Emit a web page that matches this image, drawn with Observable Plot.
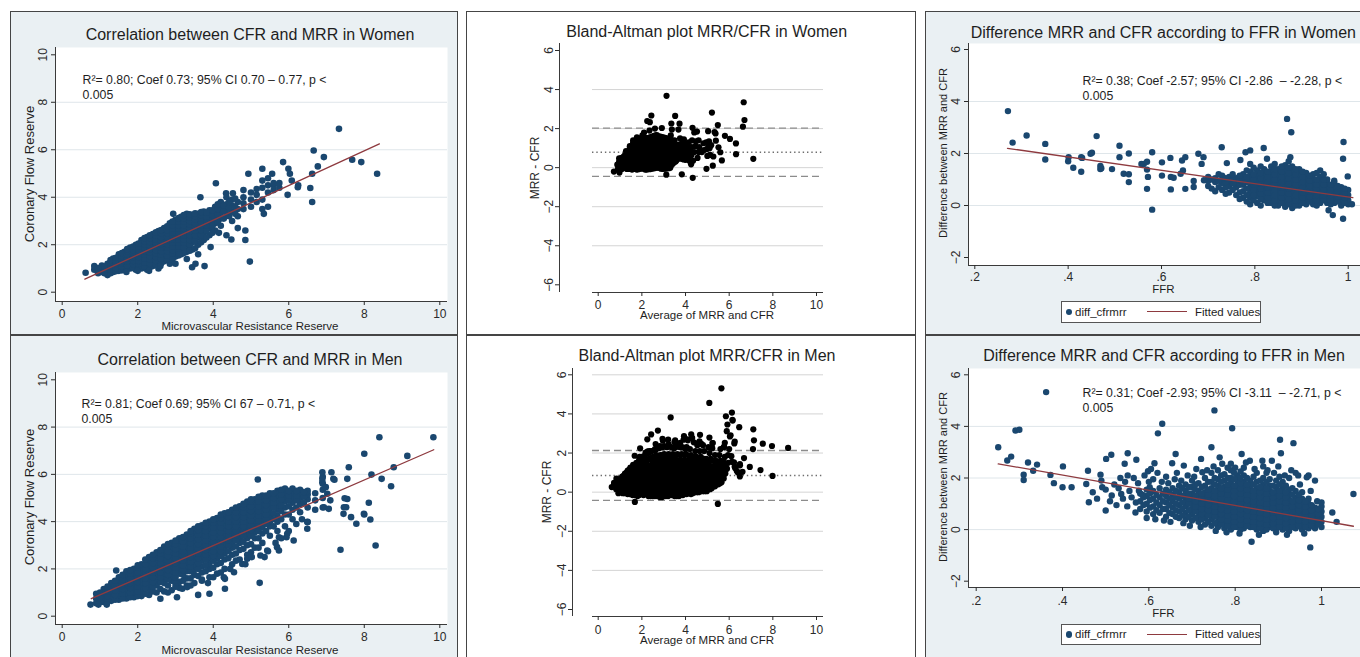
<!DOCTYPE html>
<html><head><meta charset="utf-8">
<script src="https://cdn.jsdelivr.net/npm/d3@7"></script>
<script src="https://cdn.jsdelivr.net/npm/@observablehq/plot@0.6"></script>
<style>
body{margin:0;background:#fff;}
#root{position:relative;width:1360px;height:657px;overflow:hidden;background:#fff;font-family:"Liberation Sans",Arial,Helvetica,sans-serif;}
.panel{position:absolute;box-sizing:border-box;border:1.5px solid #454545;}
.abs{position:absolute;white-space:pre;color:#1e1e1e;}
.legend{position:absolute;box-sizing:border-box;border:1.2px solid #555;background:#fff;}
</style></head><body><div id="root"></div>
<script>
// ---------------- DATA ----------------
// Women: MRR (x) vs CFR (y), columns [MRR, [CFR...]] plus scattered points
const womenCorrCols = [
 [0.85,[0.95,1.1]],[1.05,[0.85,1.0,1.12]],[1.2,[0.72,0.9,1.05,1.2]],[1.35,[0.85,1.0,1.15,1.3,1.42]],
 [1.5,[0.9,1.05,1.2,1.35,1.5,1.6]],[1.65,[0.95,1.1,1.25,1.4,1.55,1.7]],[1.8,[1.0,1.15,1.3,1.45,1.6,1.75,1.88]],
 [1.95,[0.95,1.1,1.25,1.4,1.55,1.7,1.85,2.0]],[2.1,[1.0,1.2,1.35,1.5,1.65,1.8,1.95,2.1,2.2]],
 [2.25,[0.95,1.15,1.3,1.45,1.6,1.75,1.9,2.05,2.2,2.32]],[2.4,[1.1,1.3,1.45,1.6,1.75,1.9,2.05,2.2,2.35,2.45]],
 [2.55,[1.0,1.2,1.4,1.55,1.7,1.85,2.0,2.15,2.3,2.45,2.58]],[2.7,[1.3,1.5,1.65,1.8,1.95,2.1,2.25,2.4,2.55,2.7]],
 [2.85,[1.2,1.45,1.6,1.75,1.9,2.05,2.2,2.35,2.5,2.65,2.8,2.9]],[3.0,[1.5,1.7,1.85,2.0,2.15,2.3,2.45,2.6,2.75,2.9,3.05]],
 [3.15,[1.6,1.8,2.0,2.15,2.3,2.45,2.6,2.75,2.9,3.05,3.18]],[3.3,[1.4,1.7,1.95,2.15,2.3,2.45,2.6,2.75,2.9,3.05,3.2,3.3]],
 [3.45,[1.8,2.1,2.3,2.5,2.65,2.8,2.95,3.1,3.25]],[3.6,[1.6,2.0,2.3,2.5,2.7,2.85,3.0,3.15,3.3]],
 [3.75,[2.2,2.5,2.75,2.95,3.1,3.25,3.4]],[3.9,[2.4,2.7,2.9,3.1,3.3,3.45]],[4.05,[2.6,2.9,3.2,3.4,3.6]],
 [4.2,[2.8,3.1,3.35,3.6,3.8]],[4.35,[2.4,3.3,3.5,3.7,4.0]],[4.5,[3.0,3.4,3.65,3.9]],[4.65,[2.7,3.2,3.5,3.8]],
 [4.8,[3.5,3.75,4.0,4.3]],[5.0,[3.6,3.9,4.2]],[5.15,[3.8,4.1,4.35]],[5.3,[3.5,3.9,4.4,4.7]],
 [5.45,[4.2,4.5,4.8]],[5.6,[4.3,4.5]],[5.75,[4.4,4.6]]
];
const womenCorrColsB = [
 [0.95,[0.88,1.02]],[1.12,[0.8,0.95,1.08]],[1.28,[0.8,0.95,1.1,1.25,1.35]],[1.42,[0.88,1.02,1.18,1.32,1.45]],
 [1.58,[0.92,1.08,1.22,1.38,1.52,1.65]],[1.72,[0.98,1.12,1.28,1.42,1.58,1.72,1.82]],[1.88,[1.02,1.18,1.32,1.48,1.62,1.78,1.92]],
 [2.02,[1.05,1.2,1.32,1.48,1.62,1.78,1.92,2.05]],[2.18,[1.08,1.25,1.42,1.58,1.72,1.88,2.02,2.15,2.28]],
 [2.32,[1.05,1.22,1.38,1.52,1.68,1.82,1.98,2.12,2.28,2.4]],[2.48,[1.15,1.32,1.48,1.62,1.78,1.92,2.08,2.22,2.38,2.52]],
 [2.62,[1.22,1.42,1.58,1.72,1.88,2.02,2.18,2.32,2.48,2.62]],[2.78,[1.38,1.55,1.72,1.88,2.02,2.18,2.32,2.48,2.62,2.78]],
 [2.92,[1.38,1.62,1.78,1.92,2.08,2.22,2.38,2.52,2.68,2.82,2.98]],[3.08,[1.55,1.75,1.92,2.08,2.22,2.38,2.52,2.68,2.82,2.98,3.12]],
 [3.22,[1.65,1.88,2.08,2.22,2.38,2.52,2.68,2.82,2.98,3.12,3.25]],[3.38,[1.75,2.0,2.2,2.4,2.55,2.7,2.85,3.0,3.15,3.28]],
 [3.52,[1.85,2.15,2.4,2.6,2.75,2.9,3.05,3.2,3.32]],[3.68,[2.1,2.4,2.62,2.8,2.95,3.1,3.25,3.38]],
 [3.82,[2.3,2.6,2.82,3.0,3.18,3.35]],[3.98,[2.5,2.8,3.05,3.25,3.45]],[4.12,[2.95,3.25,3.5,3.7]],
 [4.28,[3.1,3.45,3.65]],[4.42,[3.2,3.55,3.8]],[4.58,[3.3,3.6,3.95]]
];
const womenCorrExtra = [[0.62,0.82],[0.95,0.8],[1.7,0.85],[2.0,0.9],[2.3,0.9],[2.6,1.1],[3.0,1.2],[3.1,1.6],[3.44,1.05],[3.53,1.2],[3.77,1.1],[3.93,1.9],[4.15,2.5],[4.48,2.22],[4.85,2.2],[4.85,2.6],[4.97,1.29],[2.94,3.3],[3.66,4.0],[4.07,4.59],[4.34,4.17],[4.52,4.17],[4.93,4.99],[5.3,5.2],[5.34,3.3],[5.45,3.6],[5.6,4.6],[5.56,4.99],[5.85,5.48],[5.97,4.1],[5.99,5.2],[6.03,4.99],[6.08,4.7],[6.25,4.5],[6.24,4.42],[6.57,4.39],[6.62,4.99],[6.62,3.8],[6.66,5.97],[6.77,5.3],[6.93,5.69],[7.33,6.88],[7.68,5.58],[7.92,5.48],[8.34,4.99]];
const womenCorrFit = [[0.6,0.55],[8.4,6.25]];

// Men: MRR (x) vs CFR (y)
const menCorrCols = [
 [0.9,[0.55,0.75,0.95]],[1.1,[0.6,0.8,1.0,1.15]],[1.3,[0.65,0.85,1.05,1.25,1.4]],[1.5,[0.7,0.9,1.1,1.3,1.5,1.65]],
 [1.7,[0.75,0.95,1.15,1.35,1.55,1.75,1.9]],[1.9,[0.8,1.0,1.2,1.4,1.6,1.8,2.0]],[2.1,[0.85,1.05,1.25,1.45,1.65,1.85,2.05,2.2]],
 [2.3,[0.9,1.15,1.35,1.55,1.75,1.95,2.15,2.35,2.5]],[2.5,[1.0,1.3,1.5,1.7,1.9,2.1,2.3,2.5,2.7]],
 [2.7,[1.05,1.4,1.6,1.8,2.0,2.2,2.4,2.6,2.8,2.95]],[2.9,[1.1,1.5,1.7,1.9,2.1,2.3,2.5,2.7,2.9,3.1]],
 [3.1,[1.2,1.45,1.8,2.0,2.2,2.4,2.6,2.8,3.0,3.2,3.3]],[3.3,[1.3,1.6,1.9,2.1,2.3,2.5,2.7,2.9,3.1,3.3,3.45]],
 [3.5,[1.4,1.75,2.0,2.2,2.4,2.6,2.8,3.0,3.2,3.4,3.6,3.7]],[3.7,[1.5,1.85,2.1,2.35,2.55,2.75,2.95,3.15,3.35,3.55,3.75,3.85]],
 [3.9,[1.65,2.0,2.25,2.5,2.7,2.9,3.1,3.3,3.5,3.7,3.9,4.0]],[4.1,[1.8,2.2,2.45,2.65,2.85,3.05,3.25,3.45,3.65,3.85,4.05,4.15]],
 [4.3,[2.0,2.4,2.65,2.85,3.05,3.25,3.45,3.65,3.85,4.05,4.25,4.35]],[4.5,[2.2,2.6,2.9,3.1,3.3,3.5,3.7,3.9,4.1,4.3,4.5]],
 [4.7,[2.4,2.8,3.1,3.3,3.5,3.7,3.9,4.1,4.3,4.5,4.65]],[4.9,[2.6,3.0,3.3,3.5,3.7,3.9,4.1,4.3,4.5,4.7,4.85]],
 [5.1,[2.9,3.3,3.55,3.75,3.95,4.15,4.35,4.55,4.75,4.95]],[5.3,[3.1,3.5,3.75,3.95,4.15,4.35,4.55,4.75,4.95,5.1]],
 [5.5,[3.4,3.8,4.0,4.2,4.4,4.6,4.8,5.0,5.2]],[5.7,[3.6,4.0,4.25,4.5,4.7,4.9,5.1,5.3]],
 [5.9,[3.8,4.3,4.6,4.85,5.05,5.25,5.4]],[6.1,[4.1,4.5,4.8,5.0,5.2,5.4]],[6.3,[4.4,4.75,5.0,5.2,5.35]],
 [6.5,[4.6,4.95,5.15,5.3]],[6.7,[4.5,4.9,5.2]],[6.9,[4.6,5.0,5.35,5.6,5.9]]
];
const menCorrColsB = [
 [1.0,[0.6,0.8,1.0]],[1.2,[0.65,0.85,1.05,1.25]],[1.4,[0.7,0.9,1.1,1.3,1.5]],[1.6,[0.75,0.95,1.15,1.35,1.55,1.75]],
 [1.8,[0.8,1.0,1.2,1.4,1.6,1.8,1.95]],[2.0,[0.85,1.05,1.25,1.45,1.65,1.85,2.05,2.15]],[2.2,[0.95,1.2,1.4,1.6,1.8,2.0,2.2,2.4]],
 [2.4,[1.05,1.25,1.45,1.65,1.85,2.05,2.25,2.45,2.6]],[2.6,[1.15,1.45,1.65,1.85,2.05,2.25,2.45,2.65,2.8]],
 [2.8,[1.3,1.55,1.75,1.95,2.15,2.35,2.55,2.75,2.95,3.05]],[3.0,[1.4,1.65,1.85,2.05,2.25,2.45,2.65,2.85,3.05,3.2]],
 [3.2,[1.5,1.75,1.95,2.15,2.35,2.55,2.75,2.95,3.15,3.35]],[3.4,[1.6,1.9,2.1,2.3,2.5,2.7,2.9,3.1,3.3,3.5,3.6]],
 [3.6,[1.7,2.0,2.25,2.45,2.65,2.85,3.05,3.25,3.45,3.65,3.8]],[3.8,[1.9,2.15,2.4,2.6,2.8,3.0,3.2,3.4,3.6,3.8,3.95]],
 [4.0,[2.05,2.35,2.55,2.75,2.95,3.15,3.35,3.55,3.75,3.95,4.1]],[4.2,[2.25,2.55,2.75,2.95,3.15,3.35,3.55,3.75,3.95,4.15,4.3]],
 [4.4,[2.45,2.75,3.0,3.2,3.4,3.6,3.8,4.0,4.2,4.4]],[4.6,[2.65,2.95,3.2,3.4,3.6,3.8,4.0,4.2,4.4,4.6]],
 [4.8,[2.85,3.15,3.4,3.6,3.8,4.0,4.2,4.4,4.6,4.75]],[5.0,[3.05,3.4,3.65,3.85,4.05,4.25,4.45,4.65,4.85,4.95]],
 [5.2,[3.3,3.6,3.85,4.05,4.25,4.45,4.65,4.85,5.05]],[5.4,[3.6,3.9,4.1,4.3,4.5,4.7,4.9,5.1]],
 [5.6,[3.8,4.1,4.35,4.6,4.8,5.0,5.2]],[5.8,[4.1,4.45,4.7,4.95,5.15,5.35]],[6.0,[4.3,4.65,4.9,5.1,5.3]],
 [6.2,[4.6,4.9,5.1,5.3]],[6.4,[4.8,5.05,5.25]]
];
const menCorrExtra = [[0.75,0.49],[0.96,0.49],[1.18,0.49],[1.43,1.93],[2.6,0.74],[2.8,1.0],[3.0,1.25],[3.04,0.8],[3.18,1.16],[3.31,1.23],[3.4,1.3],[3.6,0.9],[3.7,1.55],[3.9,0.95],[3.86,1.4],[4.0,1.65],[4.2,1.85],[4.28,1.65],[4.31,1.16],[4.31,1.58],[4.45,2.0],[4.55,1.86],[4.6,2.35],[4.77,2.21],[4.85,2.2],[4.9,2.43],[5.0,2.7],[5.02,2.5],[5.2,2.9],[5.25,2.57],[5.36,2.5],[5.23,1.41],[5.43,2.78],[5.45,2.75],[5.65,3.1],[5.69,2.92],[5.74,2.78],[5.74,3.34],[5.8,3.3],[5.94,3.34],[5.96,3.49],[6.0,3.6],[6.13,3.2],[6.2,3.9],[6.35,4.1],[6.49,3.7],[6.49,3.98],[6.5,3.99],[6.93,4.61],[5.18,5.78],[6.89,5.67],[6.89,5.81],[6.89,6.09],[6.98,5.46],[7.02,5.18],[7.1,4.9],[7.13,6.09],[7.18,5.81],[7.21,5.77],[7.06,4.54],[7.46,4.61],[7.48,4.99],[7.52,4.61],[7.45,4.33],[7.55,4.96],[7.55,5.81],[7.59,6.3],[7.37,2.81],[7.65,4.19],[7.79,3.91],[7.99,4.33],[8.0,4.3],[8.16,4.09],[8.12,4.8],[8.3,2.99],[8.0,6.87],[8.19,5.99],[8.46,5.81],[8.71,5.5],[8.78,6.3],[9.14,6.78],[8.4,7.57],[9.83,7.57]];
const menCorrFit = [[0.77,0.74],[9.84,7.04]];

// Bland-Altman reference lines [lower LoA, upper LoA] and mean difference
const womenLoA = [-0.45, 2.02], womenMeanDiff = 0.79;
const menLoA = [-0.42, 2.13], menMeanDiff = 0.85;

// Women: FFR (x) vs difference MRR-CFR (y)
const womenFfrCols = [
 [0.70,[0.75,0.95,1.1]],[0.715,[0.55,0.9,1.05]],[0.73,[0.6,0.85,1.0,1.15]],[0.745,[0.5,0.75,0.95,1.1]],
 [0.76,[0.4,0.7,0.9,1.05]],[0.775,[0.3,0.55,0.8,1.0,1.2]],[0.79,[0.05,0.3,0.5,0.7,0.9,1.1,1.3,1.6]],
 [0.805,[0.1,0.35,0.55,0.75,0.95,1.15,1.35]],[0.82,[0.2,0.4,0.6,0.8,1.0,1.2,1.4]],[0.835,[0.1,0.3,0.5,0.7,0.9,1.1,1.3,1.5]],
 [0.85,[0.0,0.2,0.4,0.6,0.8,1.0,1.2,1.4]],[0.865,[-0.05,0.15,0.35,0.55,0.75,0.95,1.15,1.35,1.55]],
 [0.88,[-0.1,0.1,0.3,0.5,0.7,0.9,1.1,1.3,1.5]],[0.895,[0.0,0.2,0.4,0.6,0.8,1.0,1.2,1.4]],
 [0.91,[0.05,0.25,0.45,0.65,0.85,1.05,1.25]],[0.925,[0.05,0.2,0.4,0.6,0.8,1.0,1.2]],[0.94,[0.1,0.3,0.5,0.7,0.9,1.1,1.35]],
 [0.955,[0.1,0.25,0.45,0.65,0.85,1.0]],[0.97,[0.1,0.3,0.5,0.7,0.9]],[0.985,[0.0,0.15,0.35,0.55,0.7]],[1.0,[0.05,0.2,0.4,0.6]]
];
const womenFfrColsB = [
 [0.7075,[0.65,1.0]],[0.7225,[0.7,0.95,1.2]],[0.7375,[0.45,0.7,0.9,1.05]],[0.7525,[0.6,0.85,1.0,1.2]],
 [0.7675,[0.25,0.5,0.8,0.95,1.15]],[0.7825,[0.15,0.4,0.65,0.9,1.1,1.35]],[0.7975,[0.2,0.4,0.6,0.8,1.0,1.2,1.45]],
 [0.8125,[0.0,0.25,0.45,0.65,0.85,1.05,1.25,1.5]],[0.8275,[0.1,0.3,0.5,0.7,0.9,1.1,1.3]],
 [0.8425,[0.0,0.2,0.4,0.6,0.8,1.0,1.2,1.4,1.6]],[0.8575,[0.1,0.3,0.5,0.7,0.9,1.1,1.3,1.5]],
 [0.8725,[0.05,0.25,0.45,0.65,0.85,1.05,1.25,1.45,1.7]],[0.8875,[0.0,0.2,0.4,0.6,0.8,1.0,1.2,1.4]],
 [0.9025,[0.1,0.3,0.5,0.7,0.9,1.1,1.3]],[0.9175,[0.15,0.35,0.55,0.75,0.95,1.15]],[0.9325,[0.0,0.2,0.4,0.6,0.8,1.0,1.25]],
 [0.9475,[0.2,0.4,0.6,0.8,1.0,1.2]],[0.9625,[0.05,0.2,0.4,0.6,0.8]],[0.9775,[0.15,0.35,0.55,0.75]],[0.9925,[0.1,0.3,0.5,0.65]]
];
const womenFfrExtra = [[0.271,3.63],[0.281,2.42],[0.311,2.69],[0.351,2.37],[0.351,1.77],[0.4,1.7],[0.401,1.86],[0.411,1.45],[0.428,1.86],[0.428,1.3],[0.43,1.83],[0.448,1.99],[0.451,2.03],[0.461,2.67],[0.469,1.4],[0.469,1.52],[0.471,1.43],[0.494,1.4],[0.51,2.3],[0.51,1.86],[0.519,1.22],[0.53,2.0],[0.53,1.2],[0.53,0.9],[0.557,1.6],[0.562,1.6],[0.569,1.68],[0.569,1.38],[0.571,1.1],[0.569,0.64],[0.58,2.05],[0.58,-0.16],[0.601,1.66],[0.601,1.15],[0.619,1.83],[0.62,0.62],[0.62,1.1],[0.626,1.07],[0.641,1.22],[0.644,1.73],[0.646,1.35],[0.651,1.86],[0.651,0.64],[0.669,0.94],[0.669,0.71],[0.679,1.99],[0.686,1.6],[0.69,1.86],[0.691,0.97],[0.729,2.24],[0.74,1.63],[0.753,0.85],[0.769,1.75],[0.78,2.05],[0.79,2.12],[0.819,2.21],[0.826,1.8],[0.869,3.33],[0.878,2.82],[0.876,1.86],[0.99,2.44],[0.989,1.8],[0.999,1.12],[0.967,-0.37],[0.958,-0.18],[0.989,-0.51],[1.008,0.05],[0.97,0.95]];
const womenFfrFit = [[0.27,2.2],[1.01,0.3]];

// Men: FFR (x) vs difference MRR-CFR (y)
const menFfrCols = [
 [0.58,[0.8,1.1,1.4]],[0.595,[0.7,1.0,1.3,1.55]],[0.61,[0.6,0.9,1.2,1.5]],[0.625,[0.65,0.95,1.25,1.6]],
 [0.64,[0.5,0.8,1.05,1.3,1.55]],[0.655,[0.6,0.85,1.1,1.35,1.6]],[0.67,[0.45,0.7,0.95,1.2,1.45,1.7]],
 [0.685,[0.4,0.65,0.9,1.1,1.3,1.5,1.75]],[0.70,[0.35,0.6,0.8,1.0,1.2,1.4,1.65,1.9]],
 [0.715,[0.3,0.5,0.7,0.9,1.1,1.3,1.5,1.8]],[0.73,[0.2,0.45,0.65,0.85,1.05,1.25,1.45,1.7,2.0]],
 [0.745,[0.15,0.4,0.6,0.8,1.0,1.2,1.4,1.6,1.85,2.2]],[0.76,[0.1,0.3,0.5,0.7,0.9,1.1,1.3,1.5,1.7,1.95,2.3]],
 [0.775,[0.05,0.25,0.45,0.65,0.85,1.05,1.25,1.45,1.65,1.9,2.15]],[0.79,[0.0,0.2,0.4,0.6,0.8,1.0,1.2,1.4,1.6,1.8,2.0,2.3,2.55]],
 [0.805,[0.1,0.3,0.5,0.7,0.9,1.1,1.3,1.5,1.7,1.9,2.1]],[0.82,[0.05,0.25,0.45,0.65,0.85,1.05,1.25,1.45,1.65,1.85,2.1,2.4]],
 [0.835,[0.1,0.3,0.5,0.7,0.9,1.1,1.3,1.5,1.7,1.9]],[0.85,[0.0,0.2,0.4,0.6,0.8,1.0,1.2,1.4,1.6,1.85,2.2]],
 [0.865,[-0.05,0.15,0.35,0.55,0.75,0.95,1.15,1.35,1.55,1.75,2.0,2.45]],[0.88,[0.1,0.3,0.5,0.7,0.9,1.1,1.3,1.5,1.7,1.95]],
 [0.895,[-0.1,0.05,0.25,0.45,0.65,0.85,1.05,1.25,1.45,1.65,1.9]],[0.91,[0.0,0.2,0.4,0.6,0.8,1.0,1.2,1.4,1.6,1.85]],
 [0.925,[-0.05,0.15,0.35,0.55,0.75,0.95,1.15,1.35,1.55,2.0]],[0.94,[0.05,0.25,0.45,0.65,0.85,1.05,1.25,1.5,2.2]],
 [0.955,[0.0,0.2,0.4,0.6,0.8,1.0,1.2,1.45]],[0.97,[0.05,0.2,0.4,0.6,0.8,1.0,1.2,2.1]],
 [0.985,[0.05,0.25,0.45,0.65,0.85]],[1.0,[0.1,0.3,0.5,0.7,0.9]]
];
const menFfrColsB = [
 [0.5875,[0.95,1.25]],[0.6025,[0.85,1.15,1.4]],[0.6175,[0.75,1.05,1.35]],[0.6325,[0.8,1.1,1.4]],
 [0.6475,[0.65,0.95,1.2,1.45]],[0.6625,[0.5,0.75,1.0,1.25,1.5]],[0.6775,[0.55,0.8,1.05,1.3,1.6]],
 [0.6925,[0.5,0.75,1.0,1.2,1.4,1.65]],[0.7075,[0.45,0.7,0.9,1.1,1.3,1.55,1.75]],[0.7225,[0.4,0.6,0.8,1.0,1.2,1.4,1.65]],
 [0.7375,[0.3,0.55,0.75,0.95,1.15,1.35,1.55,1.85]],[0.7525,[0.25,0.5,0.7,0.9,1.1,1.3,1.5,1.75,2.0]],
 [0.7675,[0.2,0.4,0.6,0.8,1.0,1.2,1.4,1.6,1.85,2.1]],[0.7825,[0.15,0.35,0.55,0.75,0.95,1.15,1.35,1.55,1.75,2.0,2.4]],
 [0.7975,[0.1,0.3,0.5,0.7,0.9,1.1,1.3,1.5,1.7,1.95,2.2]],[0.8125,[0.0,0.2,0.4,0.6,0.8,1.0,1.2,1.4,1.6,1.8,2.0,2.25]],
 [0.8275,[0.15,0.35,0.55,0.75,0.95,1.15,1.35,1.55,1.75,2.0]],[0.8425,[0.1,0.3,0.5,0.7,0.9,1.1,1.3,1.5,1.75,2.05]],
 [0.8575,[0.05,0.25,0.45,0.65,0.85,1.05,1.25,1.45,1.65,1.9]],[0.8725,[0.0,0.2,0.4,0.6,0.8,1.0,1.2,1.4,1.6,1.85,2.2]],
 [0.8875,[0.05,0.25,0.45,0.65,0.85,1.05,1.25,1.45,1.7]],[0.9025,[0.1,0.3,0.5,0.7,0.9,1.1,1.3,1.5,1.75,2.05]],
 [0.9175,[0.05,0.25,0.45,0.65,0.85,1.05,1.25,1.45,1.7]],[0.9325,[0.1,0.3,0.5,0.7,0.9,1.1,1.35,1.6]],
 [0.9475,[0.15,0.35,0.55,0.75,0.95,1.15,1.35]],[0.9625,[0.1,0.3,0.5,0.7,0.9,1.1]],
 [0.9775,[0.15,0.35,0.55,0.75,0.95]],[0.9925,[0.2,0.4,0.6,0.8]]
];
const menFfrExtra = [[0.251,3.19],[0.272,2.68],[0.281,2.83],[0.291,3.84],[0.3,3.87],[0.31,2.13],[0.31,1.92],[0.32,2.6],[0.332,2.28],[0.341,2.52],[0.362,5.33],[0.372,2.12],[0.38,1.8],[0.401,2.45],[0.4,1.64],[0.421,1.64],[0.455,1.77],[0.459,2.28],[0.461,1.06],[0.47,1.45],[0.48,1.2],[0.488,2.13],[0.49,1.9],[0.492,1.64],[0.5,0.74],[0.5,1.55],[0.501,2.74],[0.51,1.1],[0.513,2.9],[0.514,1.32],[0.52,1.75],[0.525,0.95],[0.53,1.6],[0.534,2.0],[0.536,1.38],[0.54,1.2],[0.544,2.55],[0.545,1.85],[0.55,0.9],[0.551,2.96],[0.551,2.1],[0.555,1.5],[0.56,1.25],[0.565,2.0],[0.57,1.05],[0.571,2.71],[0.569,0.66],[0.575,1.8],[0.577,1.51],[0.585,1.35],[0.59,2.1],[0.595,0.45],[0.598,2.26],[0.6,1.85],[0.602,1.64],[0.605,2.35],[0.61,1.95],[0.613,2.57],[0.615,0.4],[0.62,2.2],[0.621,3.73],[0.63,1.85],[0.631,4.1],[0.635,0.35],[0.64,2.05],[0.645,1.8],[0.65,0.3],[0.654,2.57],[0.66,1.95],[0.662,2.93],[0.665,2.2],[0.675,1.9],[0.68,0.25],[0.681,2.48],[0.69,2.1],[0.695,0.15],[0.705,2.05],[0.71,2.35],[0.72,0.1],[0.721,2.74],[0.724,2.22],[0.735,2.3],[0.745,3.19],[0.75,2.45],[0.752,4.62],[0.755,-0.05],[0.764,2.8],[0.77,2.55],[0.78,-0.1],[0.793,3.93],[0.8,2.4],[0.81,-0.15],[0.815,2.93],[0.825,2.6],[0.834,2.67],[0.838,-0.47],[0.845,2.35],[0.855,-0.2],[0.863,2.67],[0.875,2.3],[0.885,2.67],[0.89,2.2],[0.9,2.45],[0.904,3.48],[0.906,2.96],[0.915,2.1],[0.92,-0.2],[0.93,2.3],[0.935,3.35],[0.946,2.1],[0.95,1.75],[0.96,-0.15],[0.966,2.03],[0.974,-0.69],[0.975,1.5],[0.985,1.9],[0.99,1.1],[1.0,1.05],[1.025,0.66],[1.035,0.3],[1.074,1.38]];
const menFfrFit = [[0.251,2.55],[1.074,0.13]];

// ticks and texts
const corrTicks = [0,2,4,6,8,10];
const corrGrid = [2,4,6,8];
const baTicksX = [0,2,4,6,8,10];
const baTicksY = [-6,-4,-2,0,2,4,6];
const baGridWomen = [-4,-2,0,2,4];
const baGridMen = [-4,-2,0,2,4,6];
const ffrTicksX = [0.2,0.4,0.6,0.8,1];
const ffrTicksY = [-2,0,2,4,6];
const ffrGrid = [0,2,4];
const titles = ["Correlation between CFR and MRR in Women","Bland-Altman plot MRR/CFR in Women","Difference MRR and CFR according to FFR in Women","Correlation between CFR and MRR in Men","Bland-Altman plot MRR/CFR in Men","Difference MRR and CFR according to FFR in Men"];
const notes = ["R²= 0.80; Coef 0.73; 95% CI 0.70 – 0.77, p <\n0.005","R²= 0.38; Coef -2.57; 95% CI -2.86 \u00a0– -2.28, p <\n0.005","R²= 0.81; Coef 0.69; 95% CI 67 – 0.71, p <\n0.005","R²= 0.31; Coef -2.93; 95% CI -3.11 \u00a0– -2.71, p <\n0.005"];
const legendItems = ["diff_cfrmrr","Fitted values"];

// ---------------- BUILD ----------------
const FONT = '"Liberation Sans", Arial, Helvetica, sans-serif';
const NAVY = "#1a476f", MAROON = "#8e3a3f", AX = "#3a3a3a", GRIDC = "#dfe6ea", BAGRID = "#d4d4d4";
const TICKFS = 12, NOTEFS = 12.3;
const root = document.getElementById("root");
const flat = cols => cols.flatMap(([x, ys]) => ys.map(y => [x, y]));
const womenCorr = flat(womenCorrCols).concat(flat(womenCorrColsB), womenCorrExtra);
const menCorr = flat(menCorrCols).concat(flat(menCorrColsB), menCorrExtra);
const womenBA = womenCorr.map(([m, c]) => [(m + c) / 2, m - c]);
const menBA = menCorr.map(([m, c]) => [(m + c) / 2, m - c]);
const womenFfr = flat(womenFfrCols).concat(flat(womenFfrColsB), womenFfrExtra);
const menFfr = flat(menFfrCols).concat(flat(menFfrColsB), menFfrExtra);

function el(cls, style, text) {
  const d = document.createElement("div");
  d.className = cls; Object.assign(d.style, style);
  if (text != null) d.textContent = text;
  root.appendChild(d); return d;
}
function hlabel(text, cx, base, size) {
  return el("abs", {left: cx + "px", top: (base - 0.8465 * size) + "px", fontSize: size + "px", lineHeight: size + "px", transform: "translateX(-50%)"}, text);
}
function vlabel(text, cx, cy, size) {
  return el("abs", {left: cx + "px", top: cy + "px", fontSize: size + "px", lineHeight: size + "px", transform: "translate(-50%,-50%) rotate(-90deg)"}, text);
}
const inv = c => p => c[0][0] + (p - c[0][1]) * (c[1][0] - c[0][0]) / (c[1][1] - c[0][1]);

function build(s, marks) {
  const [bl, bt, br, bb] = s.box, [fl, ft, fr, fb] = s.frame;
  const svg = Plot.plot({
    width: br - bl, height: bb - bt,
    marginLeft: fl - bl, marginTop: ft - bt, marginRight: br - fr, marginBottom: bb - fb,
    x: {type: "linear", domain: [s.xCal[0][0], s.xCal[1][0]], range: [s.xCal[0][1] - bl, s.xCal[1][1] - bl]},
    y: {type: "linear", domain: [s.yCal[0][0], s.yCal[1][0]], range: [s.yCal[0][1] - bt, s.yCal[1][1] - bt]},
    style: {background: "transparent", color: "#2a2a2a", fontFamily: FONT, overflow: "visible"},
    marks
  });
  Object.assign(svg.style, {position: "absolute", left: bl + "px", top: bt + "px"});
  root.appendChild(svg);
}
function panelBg(s, bg) {
  const [bl, bt, br, bb] = s.box;
  el("panel", {left: bl + "px", top: bt + "px", width: (br - bl) + "px", height: (bb - bt) + "px", background: bg});
}
const fmtFfr = d => d === 1 ? "1" : String(d).replace(/^0/, "");

function scatterPanel(s, o) {
  const xv = inv(s.xCal), yv = inv(s.yCal);
  const [fl, ft, fr, fb] = s.frame;
  build(s, [
    Plot.frame({fill: "#fff"}),
    Plot.ruleY(o.grid, {x1: xv(fl), x2: xv(fr), stroke: GRIDC, strokeWidth: 1}),
    Plot.dot(o.data, {x: d => d[0], y: d => d[1], r: o.r, fill: NAVY}),
    Plot.line(o.fit, {x: d => d[0], y: d => d[1], stroke: MAROON, strokeWidth: 1.3}),
    Plot.ruleX([xv(fl)], {y1: yv(ft), y2: yv(fb), stroke: AX}),
    Plot.ruleY([yv(fb)], {x1: xv(fl), x2: xv(fr), stroke: AX}),
    Plot.axisX({ticks: o.ticksX, tickSize: 4, tickPadding: o.padX, fontSize: TICKFS, label: null, tickFormat: o.fmt}),
    Plot.axisY({ticks: o.ticksY, tickSize: 4, tickPadding: o.padY, tickRotate: -90, textAnchor: "middle", lineAnchor: "bottom", fontSize: TICKFS, label: null}),
    Plot.text([o.note], {frameAnchor: "top-left", dx: o.noteDx, dy: o.noteDy, lineAnchor: "top", textAnchor: "start", fontSize: NOTEFS, lineHeight: 1.18, fill: "#1e1e1e"})
  ]);
}
function baPanel(s, o) {
  const xv = inv(s.xCal), yv = inv(s.yCal);
  const [fl, ft, fr, fb] = s.frame;
  const x1 = xv(o.regionLeft), x2 = xv(fr);
  build(s, [
    Plot.ruleY(o.grid, {x1, x2, stroke: BAGRID, strokeWidth: 1}),
    Plot.ruleY(o.loa, {x1, x2, stroke: "#8c8c8c", strokeWidth: 1.3, strokeDasharray: "7,4"}),
    Plot.ruleY([o.mean], {x1, x2, stroke: "#6e6e6e", strokeWidth: 1.4, strokeDasharray: "1.4,2.9"}),
    Plot.dot(o.data, {x: d => d[0], y: d => d[1], r: 3.1, fill: "#000"}),
    Plot.ruleX([xv(fl)], {y1: yv(ft), y2: yv(fb), stroke: AX}),
    Plot.ruleY([yv(fb)], {x1, x2, stroke: AX}),
    Plot.axisX({ticks: baTicksX, tickSize: 4, tickPadding: o.padX, fontSize: TICKFS, label: null}),
    Plot.axisY({ticks: baTicksY, tickSize: 4, tickPadding: o.padY, tickRotate: -90, textAnchor: "middle", lineAnchor: "bottom", fontSize: TICKFS, label: null})
  ]);
}

const P1 = {box: [10, 11, 458, 335], frame: [55, 47, 447, 301], xCal: [[0, 61.7], [10, 439.3]], yCal: [[0, 291.7], [10, 54.3]]};
const P4 = {box: [10, 335, 458, 672], frame: [55, 372, 447, 624], xCal: [[0, 61.7], [10, 439.3]], yCal: [[0, 615.7], [10, 379.3]]};
const P2 = {box: [466, 11, 916, 335], frame: [559, 43, 823, 292], xCal: [[0, 597.7], [10, 816]], yCal: [[-6, 284.3], [6, 50]]};
const P5 = {box: [466, 335, 916, 672], frame: [572, 368, 823, 616], xCal: [[0, 597.7], [10, 816]], yCal: [[-6, 609], [6, 374.3]]};
const P3 = {box: [925, 11, 1372, 335], frame: [968, 43, 1372, 265], xCal: [[0.2, 974.3], [1, 1347.7]], yCal: [[-2, 257], [6, 49]]};
const P6 = {box: [925, 335, 1372, 672], frame: [968, 368, 1372, 587], xCal: [[0.2, 975.7], [1, 1321]], yCal: [[-2, 580.7], [6, 374.3]]};

const BLUEBG = "#eaf0f3";
panelBg(P1, BLUEBG); panelBg(P4, BLUEBG); panelBg(P2, "#fff"); panelBg(P5, "#fff"); panelBg(P3, BLUEBG); panelBg(P6, BLUEBG);

scatterPanel(P1, {grid: corrGrid, data: womenCorr, fit: womenCorrFit, r: 3.3, ticksX: corrTicks, ticksY: corrTicks, padX: 3.5, padY: 4.5, note: notes[0], noteDx: 27, noteDy: 26.2});
scatterPanel(P4, {grid: corrGrid, data: menCorr, fit: menCorrFit, r: 3.3, ticksX: corrTicks, ticksY: corrTicks, padX: 4.2, padY: 4.5, note: notes[2], noteDx: 26, noteDy: 25.2});
scatterPanel(P3, {grid: ffrGrid, data: womenFfr, fit: womenFfrFit, r: 3.2, ticksX: ffrTicksX, ticksY: ffrTicksY, padX: 2.6, padY: 4.5, fmt: fmtFfr, note: notes[1], noteDx: 114, noteDy: 31.5});
scatterPanel(P6, {grid: ffrGrid, data: menFfr, fit: menFfrFit, r: 3.2, ticksX: ffrTicksX, ticksY: ffrTicksY, padX: 5.0, padY: 4.5, fmt: fmtFfr, note: notes[3], noteDx: 114, noteDy: 18.2});
baPanel(P2, {grid: baGridWomen, loa: womenLoA, mean: womenMeanDiff, data: womenBA, regionLeft: 592, padX: 3.6, padY: 2.2});
baPanel(P5, {grid: baGridMen, loa: menLoA, mean: menMeanDiff, data: menBA, regionLeft: 592, padX: 4.6, padY: 2.2});

// titles
const TS = 16;
hlabel(titles[0], 250, 40.7, TS);
hlabel(titles[1], 706.7, 37.7, TS);
hlabel(titles[2], 1163.3, 38.3, TS);
hlabel(titles[3], 250, 366, TS);
hlabel(titles[4], 707, 361.7, TS);
hlabel(titles[5], 1164, 361.7, TS);
// axis titles
hlabel("Microvascular Resistance Reserve", 250, 331, 11.5);
hlabel("Microvascular Resistance Reserve", 250, 655, 11.5);
vlabel("Coronary Flow Reserve", 29.3, 174, 13);
vlabel("Coronary Flow Reserve", 29.3, 497, 13);
hlabel("Average of MRR and CFR", 707, 320, 11.5);
hlabel("Average of MRR and CFR", 707, 645, 11.5);
vlabel("MRR - CFR", 535, 168, 12);
vlabel("MRR - CFR", 546.7, 492, 12);
hlabel("FFR", 1163.5, 294, 11.5);
hlabel("FFR", 1163.5, 618, 11.5);
vlabel("Difference between MRR and CFR", 943.3, 152.5, 11);
vlabel("Difference between MRR and CFR", 943.3, 476.7, 11);

// legends
function legend(top, h) {
  const lg = el("legend", {left: "1061px", top: top + "px", width: "200px", height: h + "px"});
  const mid = h / 2 - 1;
  const dot = document.createElement("div");
  Object.assign(dot.style, {position: "absolute", left: "3.5px", top: (mid - 3.2) + "px", width: "6.4px", height: "6.4px", borderRadius: "50%", background: NAVY});
  lg.appendChild(dot);
  const t1 = document.createElement("div");
  Object.assign(t1.style, {position: "absolute", left: "13px", top: (mid - 6.5) + "px", fontSize: "11.5px", lineHeight: "13px", color: "#1e1e1e", whiteSpace: "nowrap"});
  t1.textContent = legendItems[0]; lg.appendChild(t1);
  const ln = document.createElement("div");
  Object.assign(ln.style, {position: "absolute", left: "85px", width: "40px", top: (mid - 0.7) + "px", height: "0", borderTop: "1.3px solid " + MAROON});
  lg.appendChild(ln);
  const t2 = document.createElement("div");
  Object.assign(t2.style, {position: "absolute", left: "133px", top: (mid - 6.5) + "px", fontSize: "11.5px", lineHeight: "13px", color: "#1e1e1e", whiteSpace: "nowrap"});
  t2.textContent = legendItems[1]; lg.appendChild(t2);
}
legend(301, 22);
legend(624, 21);
</script></body></html>
